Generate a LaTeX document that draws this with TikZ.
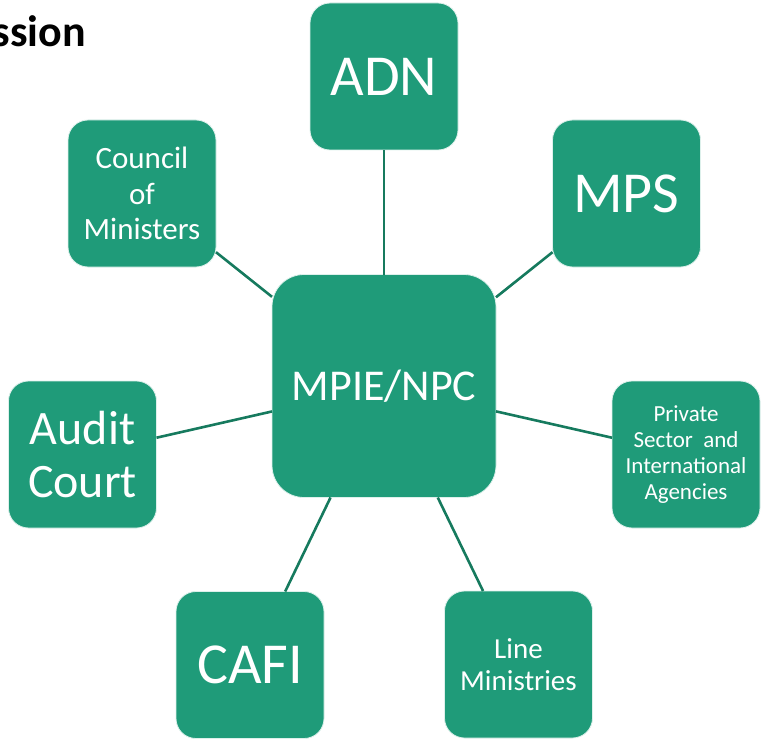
\documentclass[tikz,border=0pt]{standalone}
\usepackage{fontspec}
\setmainfont{Carlito}
\definecolor{boxgreen}{RGB}{31,155,121}
\definecolor{linegreen}{RGB}{22,122,94}
\begin{document}
\begin{tikzpicture}[x=1pt,y=-1pt,
  box/.style={fill=boxgreen, draw=white!85!boxgreen, line width=0.8pt, rounded corners=20pt,
    minimum width=148pt, minimum height=147pt, outer sep=0pt, inner sep=2pt,
    text=white, align=center},
  bigbox/.style={box, rounded corners=32pt, minimum width=224pt, minimum height=223pt},
  link/.style={draw=linegreen, line width=2.6pt}]
\useasboundingbox (0,0) rectangle (769,749);
\node[anchor=base east, font=\fontsize{44}{50}\selectfont\bfseries, inner sep=0pt] (title) at (86,46.5) {ssion};
\node[bigbox, font=\fontsize{44}{48}\selectfont] (main) at (384,386) {MPIE/NPC};
\node[box, font=\fontsize{58}{62}\selectfont] (adn) at (384,76.5) {ADN};
\node[box, font=\fontsize{31}{35.5}\selectfont] (council) at (142,193.5) {Council\\of\\Ministers};
\node[box, font=\fontsize{58}{62}\selectfont] (mps) at (626.5,193.5) {MPS};
\node[box, font=\fontsize{48}{52.5}\selectfont] (audit) at (82.5,454.5) {Audit\\Court};
\node[box, font=\fontsize{23}{26}\selectfont] (private) at (686,454.5) {Private\\Sector\ \ and\\International\\Agencies};
\node[box, font=\fontsize{58}{62}\selectfont] (cafi) at (250,665) {CAFI};
\node[box, font=\fontsize{29}{32}\selectfont] (line) at (518.5,664.5) {Line\\Ministries};
\foreach \n in {adn,council,mps,audit,private,cafi,line}
  \draw[link] (main) -- (\n);
\end{tikzpicture}
\end{document}
